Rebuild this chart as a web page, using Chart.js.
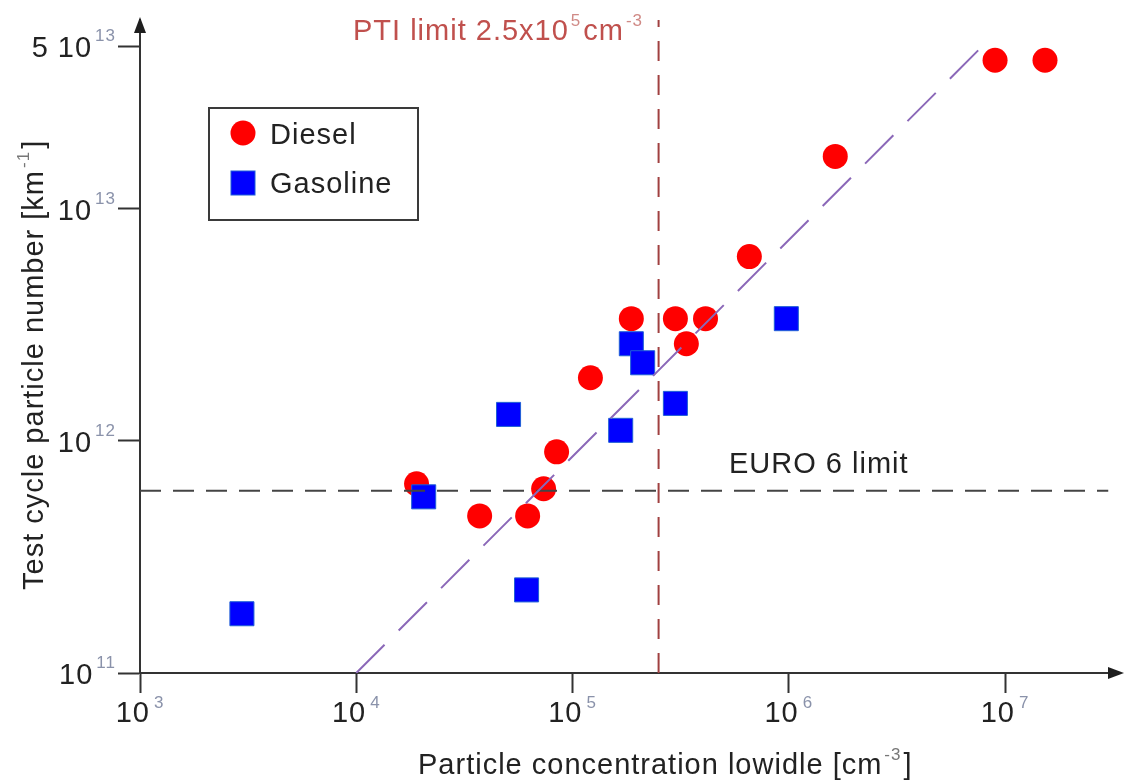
<!DOCTYPE html>
<html>
<head>
<meta charset="utf-8">
<script src="https://cdn.jsdelivr.net/npm/chart.js@4/dist/chart.umd.min.js"></script>
<style>
  html, body { margin: 0; padding: 0; background: #ffffff; }
  canvas { display: block; }
</style>
</head>
<body>
<canvas id="particleChart" width="1125" height="782"></canvas>
<script>
// values (log-log axes)
const dieselX = [1.90e4, 3.72e4, 6.20e4, 7.35e4, 8.44e4, 1.21e5, 1.87e5, 2.99e5, 4.12e5, 3.36e5, 6.57e5, 1.64e6, 8.99e6, 1.53e7];
const dieselY = [6.53e11, 4.75e11, 4.75e11, 6.22e11, 8.97e11, 1.87e12, 3.36e12, 3.36e12, 3.36e12, 2.62e12, 6.22e12, 1.68e13, 4.36e13, 4.36e13];

const gasolineX = [2.96e3, 2.05e4, 5.06e4, 6.13e4, 1.67e5, 1.87e5, 2.11e5, 2.99e5, 9.74e5];
const gasolineY = [1.80e11, 5.74e11, 1.30e12, 2.28e11, 1.11e12, 2.62e12, 2.17e12, 1.45e12, 3.36e12];

const fitX = [1e4, 7.83e6];
const fitY = [1e11, 5e13];

const euroLimit = 6.1e11;
const ptiLimit = 2.5e5;

const xMin = 1e3;
const xMax = 3.4e7;
const yMin = 1e11;
const yMax = 6.5e13;

const xTickValues = [1e3, 1e4, 1e5, 1e6, 1e7];
const xTickExp = ["3", "4", "5", "6", "7"];
const yTickValues = [1e11, 1e12, 1e13, 5e13];
const yTickBase = ["10", "10", "10", "5 10"];
const yTickExp = ["11", "12", "13", "13"];

const FONT_FAMILY = '"Liberation Sans", Arial, sans-serif';
const BASE_FONT = "29px " + FONT_FAMILY;
const SUP_FONT = "17px " + FONT_FAMILY;
const AXIS_COLOR = "#333333";
const TEXT_COLOR = "#222222";

function toPoints(xs, ys) {
  return xs.map((v, i) => ({ x: v, y: ys[i] }));
}

function drawRuns(ctx, runs, x, y, color, supColor) {
  let cx = x;
  runs.forEach((r) => {
    ctx.font = r.sup ? SUP_FONT : BASE_FONT;
    ctx.fillStyle = r.sup ? supColor : color;
    const off = r.sup ? 2 : 0;
    ctx.fillText(r.text, cx + off, r.sup ? y - 14 : y);
    cx += ctx.measureText(r.text).width + off * 2;
  });
}

const annotations = {
  id: "annotations",
  afterDraw(chart) {
    const { ctx, chartArea } = chart;
    const xs = chart.scales.x;
    const ys = chart.scales.y;
    ctx.save();
    ctx.textAlign = "left";
    ctx.textBaseline = "alphabetic";
    ctx.letterSpacing = "1px";

    // x tick labels
    xTickValues.forEach((v, i) => {
      const px = xs.getPixelForValue(v);
      ctx.font = BASE_FONT;
      const wb = ctx.measureText("10").width;
      ctx.font = SUP_FONT;
      const we = ctx.measureText(xTickExp[i]).width;
      const start = px - (wb + 4 + we) / 2;
      ctx.font = BASE_FONT;
      ctx.fillStyle = TEXT_COLOR;
      ctx.fillText("10", start, chartArea.bottom + 49);
      ctx.font = SUP_FONT;
      ctx.fillStyle = "#8a92aa";
      ctx.fillText(xTickExp[i], start + wb + 4, chartArea.bottom + 35);
    });

    // y tick labels
    yTickValues.forEach((v, i) => {
      const py = ys.getPixelForValue(v);
      ctx.font = SUP_FONT;
      const we = ctx.measureText(yTickExp[i]).width;
      const supLeft = chartArea.left - 24 - we;
      ctx.fillStyle = "#8a92aa";
      ctx.fillText(yTickExp[i], supLeft, py - 5);
      ctx.font = BASE_FONT;
      const wb = ctx.measureText(yTickBase[i]).width;
      ctx.fillStyle = TEXT_COLOR;
      ctx.fillText(yTickBase[i], supLeft - 3 - wb, py + 11);
    });

    // axis titles
    drawRuns(ctx, [
      { text: "Particle concentration lowidle [cm" },
      { text: "-3", sup: true },
      { text: "]" },
    ], 418, 774, TEXT_COLOR, "#777777");

    ctx.save();
    ctx.translate(43, 590);
    ctx.rotate(-Math.PI / 2);
    drawRuns(ctx, [
      { text: "Test cycle particle number [km" },
      { text: "-1", sup: true },
      { text: "]" },
    ], 0, 0, TEXT_COLOR, "#777777");
    ctx.restore();

    // limit labels
    drawRuns(ctx, [
      { text: "PTI limit 2.5x10" },
      { text: "5", sup: true },
      { text: "cm" },
      { text: "-3", sup: true },
    ], 353, 40, "#c0504d", "#d08a86");

    drawRuns(ctx, [{ text: "EURO 6 limit" }], 729, 473, TEXT_COLOR, TEXT_COLOR);

    // legend
    ctx.fillStyle = "#ffffff";
    ctx.fillRect(209, 108, 209, 112);
    ctx.strokeStyle = "#3a3a3a";
    ctx.lineWidth = 2;
    ctx.strokeRect(209, 108, 209, 112);
    const diesel = chart.data.datasets[3];
    const gasoline = chart.data.datasets[4];
    ctx.beginPath();
    ctx.arc(243, 133, 12.5, 0, Math.PI * 2);
    ctx.fillStyle = diesel.backgroundColor;
    ctx.fill();
    ctx.fillStyle = gasoline.backgroundColor;
    ctx.fillRect(231, 171, 24, 24);
    ctx.strokeStyle = gasoline.borderColor;
    ctx.lineWidth = 1;
    ctx.strokeRect(231, 171, 24, 24);
    drawRuns(ctx, [{ text: diesel.label }], 270, 144, TEXT_COLOR, TEXT_COLOR);
    drawRuns(ctx, [{ text: gasoline.label }], 270, 193, TEXT_COLOR, TEXT_COLOR);

    // axis arrow heads
    ctx.fillStyle = "#1e1e1e";
    ctx.beginPath();
    ctx.moveTo(chartArea.left, chartArea.top - 3);
    ctx.lineTo(chartArea.left - 6, chartArea.top + 13);
    ctx.lineTo(chartArea.left + 6, chartArea.top + 13);
    ctx.closePath();
    ctx.fill();
    ctx.beginPath();
    ctx.moveTo(chartArea.right + 4, chartArea.bottom);
    ctx.lineTo(chartArea.right - 12, chartArea.bottom - 6);
    ctx.lineTo(chartArea.right - 12, chartArea.bottom + 6);
    ctx.closePath();
    ctx.fill();

    ctx.restore();
  },
};

new Chart(document.getElementById("particleChart"), {
  type: "scatter",
  data: {
    datasets: [
      {
        label: "fit",
        data: toPoints(fitX, fitY),
        showLine: true,
        pointRadius: 0,
        borderColor: "#8b68b8",
        borderWidth: 2,
        borderDash: [40, 20],
        order: 0,
      },
      {
        label: "EURO 6 limit",
        data: toPoints([xMin, 3.0e7], [euroLimit, euroLimit]),
        showLine: true,
        pointRadius: 0,
        borderColor: "#444444",
        borderWidth: 2,
        borderDash: [21, 12],
        order: 0,
      },
      {
        label: "PTI limit",
        data: toPoints([ptiLimit, ptiLimit], [yMin, yMax]),
        showLine: true,
        pointRadius: 0,
        borderColor: "#a04040",
        borderWidth: 2,
        borderDash: [20, 14],
        order: 0,
      },
      {
        label: "Diesel",
        data: toPoints(dieselX, dieselY),
        pointStyle: "circle",
        pointRadius: 12.5,
        backgroundColor: "#ff0000",
        borderColor: "#ff0000",
        borderWidth: 0,
        order: 2,
      },
      {
        label: "Gasoline",
        data: toPoints(gasolineX, gasolineY),
        pointStyle: "rect",
        pointRadius: 17,
        backgroundColor: "#0000ff",
        borderColor: "#1f5fd6",
        borderWidth: 1,
        order: 1,
      },
    ],
  },
  options: {
    responsive: false,
    animation: false,
    events: [],
    layout: {
      autoPadding: false,
      padding: { top: 20, right: 5, left: 0, bottom: 0 },
    },
    plugins: {
      legend: { display: false },
      tooltip: { enabled: false },
    },
    scales: {
      x: {
        type: "logarithmic",
        min: xMin,
        max: xMax,
        afterBuildTicks(scale) {
          scale.ticks = xTickValues.map((v) => ({ value: v }));
        },
        afterFit(scale) {
          scale.height = 109;
        },
        ticks: { display: false },
        grid: {
          drawOnChartArea: false,
          drawTicks: true,
          tickLength: 20,
          tickColor: AXIS_COLOR,
          tickWidth: 2,
        },
        border: { display: true, color: AXIS_COLOR, width: 2 },
      },
      y: {
        type: "logarithmic",
        min: yMin,
        max: yMax,
        afterBuildTicks(scale) {
          scale.ticks = yTickValues.map((v) => ({ value: v }));
        },
        afterFit(scale) {
          scale.width = 140;
        },
        ticks: { display: false },
        grid: {
          drawOnChartArea: false,
          drawTicks: true,
          tickLength: 22,
          tickColor: AXIS_COLOR,
          tickWidth: 2,
        },
        border: { display: true, color: AXIS_COLOR, width: 2 },
      },
    },
  },
  plugins: [annotations],
});
</script>
</body>
</html>
